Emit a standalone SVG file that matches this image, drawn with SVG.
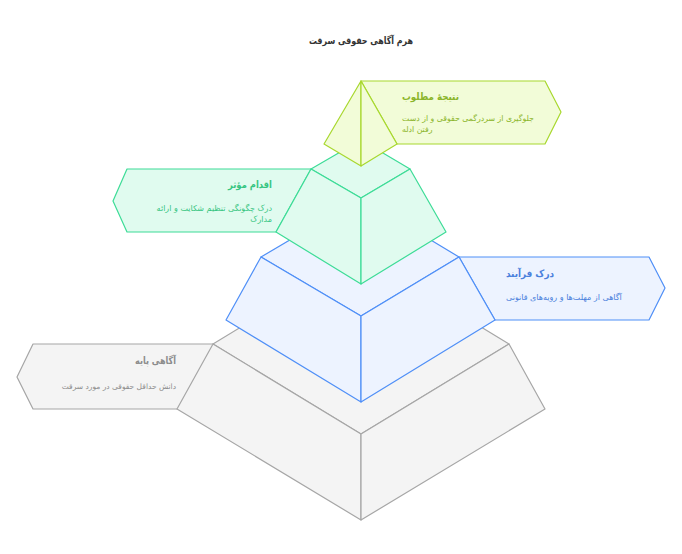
<svg xmlns="http://www.w3.org/2000/svg" width="682" height="554" viewBox="0 0 682 554">
<style>
text{font-family:"DejaVu Sans","Noto Sans",sans-serif;}
.t{font-size:10px;font-weight:bold;}
.d{font-size:8px;}
.gray polygon{fill:#f4f4f4;stroke:#a6a6a6;stroke-width:1.2;stroke-linejoin:round;}
.blue polygon{fill:#edf3ff;stroke:#4f8ff7;stroke-width:1.2;stroke-linejoin:round;}
.green polygon{fill:#e0fbef;stroke:#3ddc97;stroke-width:1.2;stroke-linejoin:round;}
.yel polygon{fill:#f2fcd8;stroke:#a8d82e;stroke-width:1.2;stroke-linejoin:round;}
.gray text{fill:#8c8c8c;}
.blue text{fill:#4a80dc;}
.green text{fill:#36c581;}
.yel text{fill:#8bb52a;}
</style>
<rect width="682" height="554" fill="#ffffff"/>
<text x="361" y="44" text-anchor="middle" textLength="104" lengthAdjust="spacingAndGlyphs" style="font-size:10px;font-weight:bold;fill:#333333">هرم آگاهی حقوقی سرقت</text>

<g id="level-base" class="gray">
<polygon points="213,344 361,344 361,409 177,409 33,409 17,377 33,344"/>
<polygon points="213,344 361,254 509,344 361,434"/>
<polygon points="213,344 361,434 361,520 177,409"/>
<polygon points="361,434 509,344 545,409 361,520"/>
<text class="t" x="176" y="364" text-anchor="end" textLength="41" lengthAdjust="spacingAndGlyphs">آگاهی پایه</text>
<text class="d" x="176" y="389" text-anchor="end" style="font-size:7.5px">دانش حداقل حقوقی در مورد سرقت</text>
</g>

<g id="level-process" class="blue">
<polygon points="459,257 649,257 665,288 649,320 495,320"/>
<polygon points="261,257 361,198 459,257 361,316"/>
<polygon points="261,257 361,316 361,402 226,320"/>
<polygon points="361,316 459,257 495,320 361,402"/>
<text class="t" x="506" y="277" text-anchor="start" textLength="48" lengthAdjust="spacingAndGlyphs">درک فرآیند</text>
<text class="d" x="506" y="300" text-anchor="start">آگاهی از مهلت‌ها و رویه‌های قانونی</text>
</g>

<g id="level-action" class="green">
<polygon points="127,169 311,169 276,232 127,232 113,201"/>
<polygon points="311,169 361,140 410,169 361,198"/>
<polygon points="311,169 361,198 361,284 276,232"/>
<polygon points="361,198 410,169 446,232 361,284"/>
<text class="t" x="272" y="188" text-anchor="end" textLength="44" lengthAdjust="spacingAndGlyphs">اقدام مؤثر</text>
<text class="d" x="272" y="211" text-anchor="end">درک چگونگی تنظیم شکایت و ارائه</text>
<text class="d" x="272" y="222" text-anchor="end">مدارک</text>
</g>

<g id="level-result" class="yel">
<polygon points="361,81 545,81 561,112 545,144 397,144"/>
<polygon points="361,81 324,144 361,166"/>
<polygon points="361,81 361,166 397,144"/>
<text class="t" x="402" y="100" text-anchor="start" textLength="57" lengthAdjust="spacingAndGlyphs">نتیجهٔ مطلوب</text>
<text class="d" x="402" y="121" text-anchor="start" style="font-size:7.8px">جلوگیری از سردرگمی حقوقی و از دست</text>
<text class="d" x="402" y="132" text-anchor="start" style="font-size:7.8px">رفتن ادله</text>
</g>
<g id="connectors"></g>
</svg>
